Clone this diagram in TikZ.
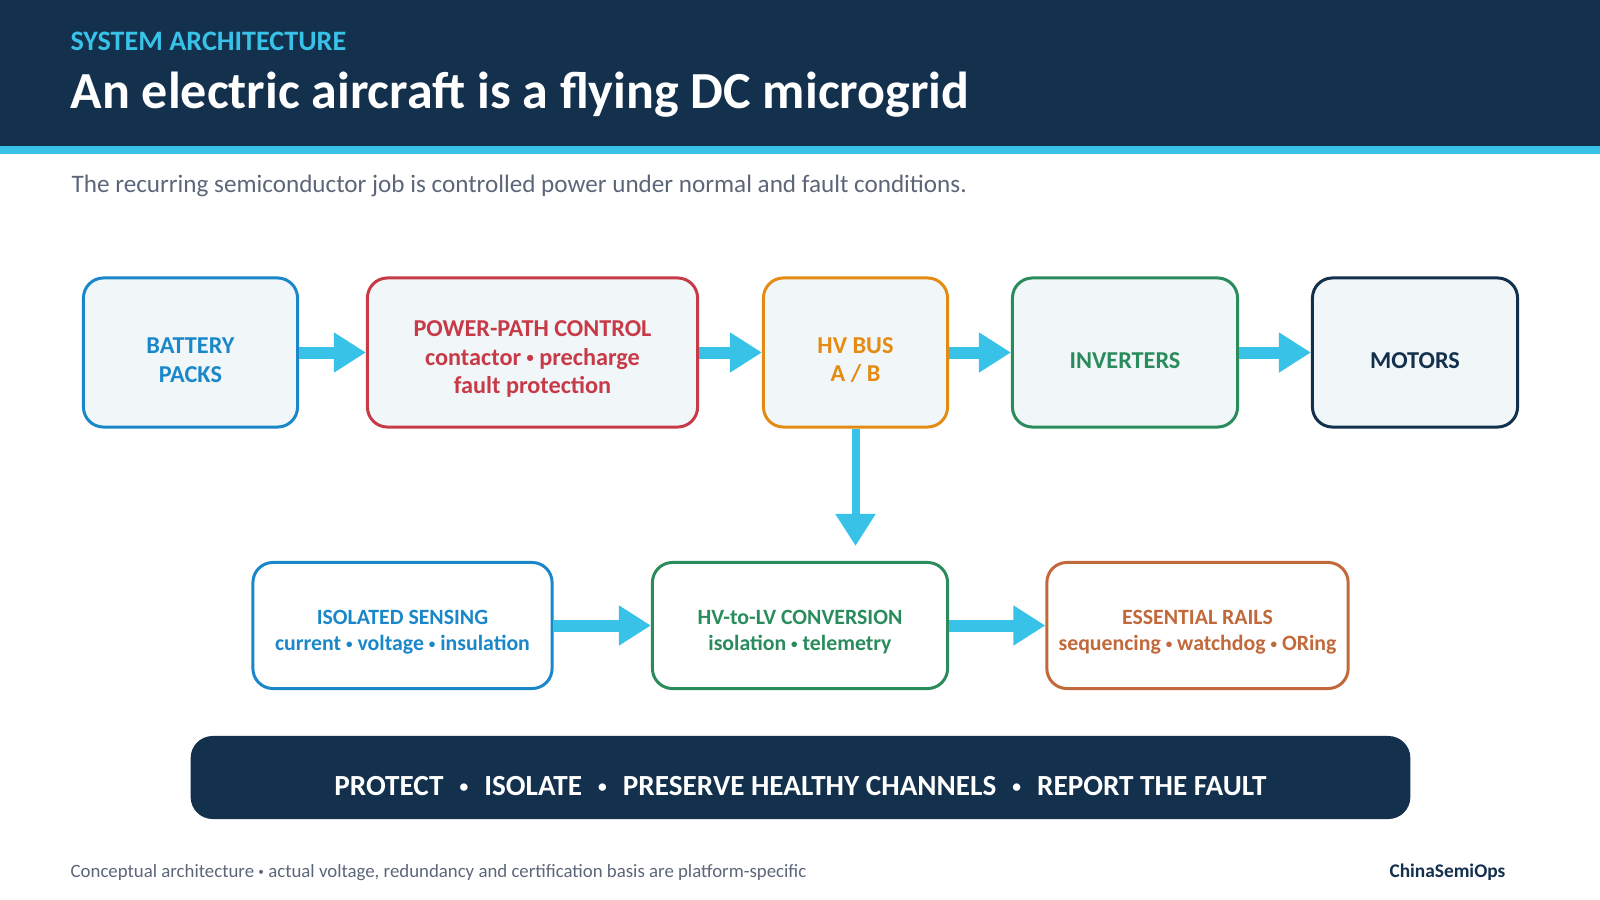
\documentclass[tikz,border=0pt]{standalone}
\usepackage{fontspec}
\setmainfont{Carlito}
\usetikzlibrary{arrows.meta,positioning}
\definecolor{navy}{HTML}{13304D}
\definecolor{skyline}{HTML}{38C2E8}
\definecolor{packblue}{HTML}{1A87C9}
\definecolor{pathred}{HTML}{C73A47}
\definecolor{busorange}{HTML}{E38B12}
\definecolor{invgreen}{HTML}{2A8C5C}
\definecolor{railcopper}{HTML}{C1693B}
\definecolor{paper}{HTML}{F1F6F9}
\definecolor{subgray}{HTML}{5C6679}
\newcommand{\pip}{\raisebox{0.1em}{\scalebox{0.6}{•}}}
\newcommand{\bannerdot}{\hspace{0.55em}\pip\hspace{0.55em}}
\tikzset{
    block/.style={draw,rounded corners=0.2cm,line width=0.03cm,align=center,fill=paper,
        minimum height=1.49cm,font=\bfseries\fontsize{6.9}{8.1}\selectfont},
    lowblock/.style={draw,rounded corners=0.2cm,line width=0.03cm,align=center,fill=white,
        minimum width=2.99cm,minimum height=1.26cm,font=\bfseries\fontsize{6.2}{7.5}\selectfont},
    lift/.style={execute at begin node={\rule{0pt}{#1}}},
    flow/.style={-{Triangle[length=0.32cm,width=0.38cm]},line width=0.12cm,draw=skyline}
}

\begin{document}
\begin{tikzpicture}[x=0.01cm,y=-0.01cm]
    \useasboundingbox (0,0) rectangle (1600,900);
    \fill[navy] (0,0) rectangle (1600,146);
    \fill[skyline] (0,146) rectangle (1600,154);
    \node[anchor=base west,inner sep=0,text=skyline,font=\bfseries\fontsize{8}{10}\selectfont] (kicker) at (70,51) {SYSTEM ARCHITECTURE};
    \node[anchor=base west,inner sep=0,text=white,font=\bfseries\fontsize{14.8}{17}\selectfont] (title) at (70,108) {An electric aircraft is a flying DC microgrid};
    \node[anchor=base west,inner sep=0,text=subgray,font=\fontsize{7.15}{8}\selectfont] (lede) at (71,192) {The recurring semiconductor job is controlled power under normal and fault conditions.};

    \node[block,lift=0.6cm,draw=packblue,text=packblue,minimum width=2.14cm] (packs) at (190.5,352.5) {BATTERY\\PACKS};
    \node[block,lift=0.86cm,draw=pathred,text=pathred,minimum width=3.30cm] (path) at (532.5,352.5) {POWER-PATH CONTROL\\contactor \pip{} precharge\\fault protection};
    \node[block,lift=0.6cm,draw=busorange,text=busorange,minimum width=1.84cm] (bus) at (855.5,352.5) {HV BUS\\A / B};
    \node[block,lift=0.32cm,draw=invgreen,text=invgreen,minimum width=2.25cm] (inv) at (1125,352.5) {INVERTERS};
    \node[block,lift=0.32cm,draw=navy,text=navy,minimum width=2.05cm] (motors) at (1415,352.5) {MOTORS};

    \node[lowblock,lift=0.54cm,draw=packblue,text=packblue] (sense) at (402.5,625.5) {ISOLATED SENSING\\current \pip{} voltage \pip{} insulation};
    \node[lowblock,lift=0.54cm,draw=invgreen,text=invgreen,minimum width=2.95cm] (hvlv) at (800,625.5) {HV-to-LV CONVERSION\\isolation \pip{} telemetry};
    \node[lowblock,lift=0.54cm,draw=railcopper,text=railcopper] (rails) at (1197.5,625.5) {ESSENTIAL RAILS\\sequencing \pip{} watchdog \pip{} ORing};
    \coordinate (drop) at (855.5,546);

    \draw[flow] (packs) -- (path);
    \draw[flow] (path) -- (bus);
    \draw[flow] (bus) -- (inv);
    \draw[flow] (inv) -- (motors);
    \draw[flow,line width=0.08cm] (bus.south) -- (drop);
    \draw[flow] (sense) -- (hvlv);
    \draw[flow] (hvlv) -- (rails);

    \node[fill=navy,rounded corners=0.22cm,minimum width=12.19cm,minimum height=0.83cm,text=white,
        font=\bfseries\fontsize{8.3}{10}\selectfont,lift=0.36cm] (motto) at (800.5,777.5)
        {PROTECT\bannerdot ISOLATE\bannerdot PRESERVE HEALTHY CHANNELS\bannerdot REPORT THE FAULT};

    \node[anchor=base west,inner sep=0,text=subgray,font=\fontsize{5.35}{6}\selectfont] (note) at (70,877) {Conceptual architecture \pip{} actual voltage, redundancy and certification basis are platform-specific};
    \node[anchor=base east,inner sep=0,text=navy,font=\bfseries\fontsize{5.5}{6}\selectfont] (brand) at (1506,877) {ChinaSemiOps};
\end{tikzpicture}
\end{document}
